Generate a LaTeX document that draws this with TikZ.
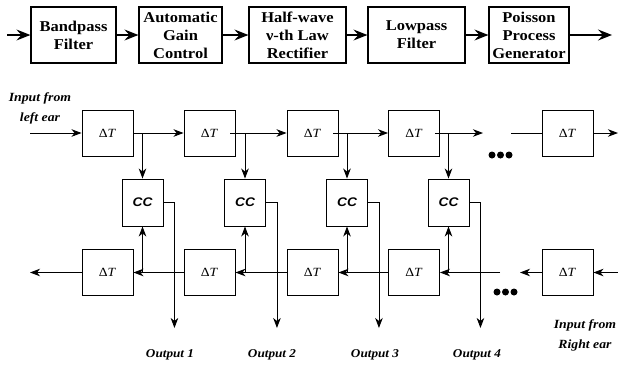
\documentclass[tikz,border=0pt]{standalone}
\usepackage{fontspec}
\setmainfont[FakeStretch=1.1]{Liberation Serif}
\newfontfamily\ccfont[FakeStretch=1.1]{Liberation Sans}
\usetikzlibrary{arrows.meta}
\begin{document}
\begin{tikzpicture}[x=1pt,y=-1pt,
  topbox/.style={draw,line width=1.2pt,inner sep=0pt,align=center,
    minimum height=56pt,font=\bfseries\fontsize{15}{18}\selectfont},
  dtbox/.style={draw,line width=0.9pt,inner sep=0pt,minimum width=51pt,minimum height=46pt,
    font=\fontsize{12.5}{14}\selectfont},
  ccbox/.style={draw,line width=0.9pt,inner sep=0pt,minimum width=41pt,minimum height=47pt,
    font=\ccfont\bfseries\itshape\fontsize{12.5}{14}\selectfont},
  lbl/.style={align=center,inner sep=0pt,font=\bfseries\itshape\fontsize{12.5}{20}\selectfont},
  outlbl/.style={inner sep=0pt,font=\bfseries\itshape\fontsize{12}{14}\selectfont},
  bigarr/.style={line width=1.2pt,-{Stealth[length=14pt,width=11pt,inset=5pt]}},
  arr/.style={line width=0.9pt,-{Stealth[length=10pt,width=7.5pt,inset=3pt]}},
  ln/.style={line width=0.9pt},
  dot/.style={fill,circle,inner sep=0pt,minimum size=7pt}]
\useasboundingbox (0,0) rectangle (618,365);
% top processing chain
\node[topbox,minimum width=85pt] (p1) at (73.5,35) {Bandpass\\Filter};
\node[topbox,minimum width=83pt] (p2) at (180.5,35) {Automatic\\Gain\\Control};
\node[topbox,minimum width=97pt] (p3) at (297.5,35) {Half-wave\\ν-th Law\\Rectifier};
\node[topbox,minimum width=97pt] (p4) at (416.5,35) {Lowpass\\Filter};
\node[topbox,minimum width=80pt] (p5) at (529,35) {Poisson\\Process\\Generator};
\coordinate (pin) at (7,35);
\coordinate (pout) at (612,35);
\draw[bigarr] (pin) -- (p1);
\draw[bigarr] (p1) -- (p2);
\draw[bigarr] (p2) -- (p3);
\draw[bigarr] (p3) -- (p4);
\draw[bigarr] (p4) -- (p5);
\draw[bigarr] (p5) -- (pout);
% delay lines
\foreach \n/\x in {1/107.5,2/209.5,3/312.5,4/414,5/567.5}{
  \node[dtbox] (t\n) at (\x,133) {Δ\textit{T}};
  \node[dtbox] (b\n) at (\x,272.5) {Δ\textit{T}};
}
\foreach \n/\x in {1/142.5,2/245,3/347,4/448.5}{
  \node[ccbox] (c\n) at (\x,202.5) {CC};
}
% top line (left to right)
\coordinate (lin) at (30,133);
\draw[arr] (lin) -- (t1);
\draw[arr] (t1) -- (t2);
\draw[arr] ([xshift=-5pt]t2.east) -- (t3);
\draw[arr] ([xshift=-5pt]t3.east) -- (t4);
\coordinate (tgap1) at (483,133);
\coordinate (tgap2) at (511,133);
\draw[arr] ([xshift=-5pt]t4.east) -- (tgap1);
\draw[ln] (tgap2) -- (t5);
\coordinate (tend) at (618,133);
\draw[arr] (t5) -- (tend);
\node[dot] (d1) at (492,155) {};
\node[dot] (d2) at (500.5,155) {};
\node[dot] (d3) at (509,155) {};
% bottom line (right to left)
\coordinate (rin) at (618,272.5);
\draw[arr] (rin) -- (b5);
\coordinate (bgap1) at (520,272.5);
\coordinate (bgap2) at (500,272.5);
\draw[arr] (b5) -- (bgap1);
\draw[arr] (bgap2) -- (b4);
\draw[arr] (b4) -- (b3);
\draw[arr] (b3) -- (b2);
\draw[arr] (b2) -- (b1);
\coordinate (bend) at (30,272.5);
\draw[arr] (b1) -- (bend);
\node[dot] (e1) at (497,292) {};
\node[dot] (e2) at (505.5,292) {};
\node[dot] (e3) at (514,292) {};
% taps to CC
\foreach \n in {1,2,3,4}{
  \draw[arr] (c\n.north |- t1.center) -- (c\n.north);
  \draw[arr] (c\n.south |- b1.center) -- (c\n.south);
  \coordinate (k\n) at ([xshift=11pt]c\n.east);
  \coordinate (o\n) at ([xshift=11pt,yshift=-125.5pt]c\n.east);
  \draw[arr] (c\n.east) -- (k\n) -- (o\n);
}
% labels
\node[lbl] (linl) at (40,108) {Input from\\left ear};
\node[lbl] (rinl) at (585,335) {Input from\\Right ear};
\node[outlbl] (ol1) at (170,355) {Output 1};
\node[outlbl] (ol2) at (272,355) {Output 2};
\node[outlbl] (ol3) at (375,355) {Output 3};
\node[outlbl] (ol4) at (477,355) {Output 4};
\end{tikzpicture}
\end{document}
